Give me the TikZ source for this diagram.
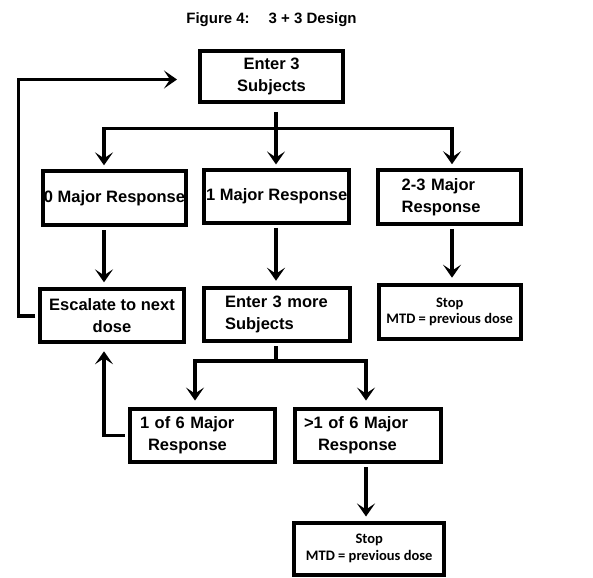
\documentclass[tikz,border=0pt]{standalone}
\usepackage{fontspec}
\setmainfont{Liberation Sans}
\newfontfamily\stopfont{Carlito}
\usepackage{tikz}
\usetikzlibrary{arrows.meta, positioning}
\tikzset{
  box/.style={rectangle, draw, line width=4pt, inner sep=0pt, minimum height=54pt, minimum width=145pt, align=center, font=\bfseries\fontsize{16.5}{22}\selectfont},
  lefttext/.style={text width=#1, align=left},
  stopbox/.style={box, font=\stopfont\bfseries\fontsize{14.5}{16.5}\selectfont},
  link/.style={line width=3.5pt},
  arrow/.style={-{Stealth[length=13pt,width=18pt,inset=6pt]}, line width=3.5pt},
}
\begin{document}
\begin{tikzpicture}[x=1pt, y=-1pt]
    \useasboundingbox (0,0) rectangle (593,577);
    \node[font=\bfseries\fontsize{15}{18}\selectfont] (title) at (271.5,19.5) {Figure 4:\hspace{19pt}3 + 3 Design};
    \node[box, minimum width=143pt, minimum height=51pt] (enter) at (271.5,76.5) {Enter 3\\Subjects};
    \node[box, minimum width=142.5pt, minimum height=54pt] (zero) at (114.5,198.3) {0 Major Response};
    \node[box, minimum width=144.5pt, minimum height=52.5pt] (one) at (276.7,196.7) {1 Major Response};
    \node[box, lefttext=95.6pt, minimum width=143.5pt, minimum height=53.5pt] (three) at (449.5,197) {2-3 Major\\Response};
    \node[box, minimum width=143.5pt, minimum height=53pt] (esc) at (112,315.8) {Escalate to next\\dose};
    \node[box, lefttext=104pt, minimum width=145.5pt, minimum height=53.5pt] (more) at (277,314.5) {Enter 3 more\\Subjects};
    \node[stopbox, minimum width=142pt, minimum height=54pt] (stop1) at (449.7,311.7) {Stop\\MTD = previous dose};
    \node[box, lefttext=124.4pt, minimum width=145pt, minimum height=53.5pt] (one6) at (202.2,435.3) {1 of 6 Major\\\hspace*{8pt}Response};
    \node[box, lefttext=128pt, minimum width=145.5pt, minimum height=53.5pt] (more6) at (368,435.3) {>1 of 6 Major\\\hspace*{14pt}Response};
    \node[stopbox, minimum width=149.5pt, minimum height=52pt] (stop2) at (369.2,548.5) {Stop\\MTD = previous dose};

    \coordinate (split1) at (276,128.5);
    \coordinate (bus1l) at (104,128.5);
    \coordinate (bus1r) at (452,128.5);
    \coordinate (split2) at (276,361);
    \coordinate (bus2l) at (195,361);
    \coordinate (bus2r) at (366,361);

    % first split
    \draw[arrow, shorten <=8pt, shorten >=4pt] (enter.south -| split1) -- (split1 |- one.north);
    \draw[arrow, shorten >=4pt] (split1) -| (bus1l |- zero.north);
    \draw[arrow, shorten >=4pt] (split1) -| (bus1r |- three.north);
    \draw[arrow, shorten <=3pt, shorten >=5pt] (zero.south -| bus1l) -- (esc.north -| bus1l);
    \draw[arrow, shorten <=3pt, shorten >=5pt] (one.south -| split1) -- (more.north -| split1);
    \draw[arrow, shorten <=3pt, shorten >=5pt] (three.south -| bus1r) -- (stop1.north -| bus1r);
    \draw[arrow, shorten <=3pt, shorten >=21pt] (esc.west) -- ++(-20,0) |- ([yshift=-3pt]enter.west);

    % second split
    \draw[link, shorten <=3pt] (more.south -| split2) -- (split2);
    \draw[arrow, shorten >=6pt] (split2) -| (bus2l |- one6.north);
    \draw[arrow, shorten >=6pt] (split2) -| (bus2r |- more6.north);
    \draw[arrow, shorten <=3pt, shorten >=7pt] (one6.west) -| (esc.south -| bus1l);
    \draw[arrow, shorten <=3pt, shorten >=4pt] (more6.south -| bus2r) -- (stop2.north -| bus2r);
  \end{tikzpicture}
\end{document}
